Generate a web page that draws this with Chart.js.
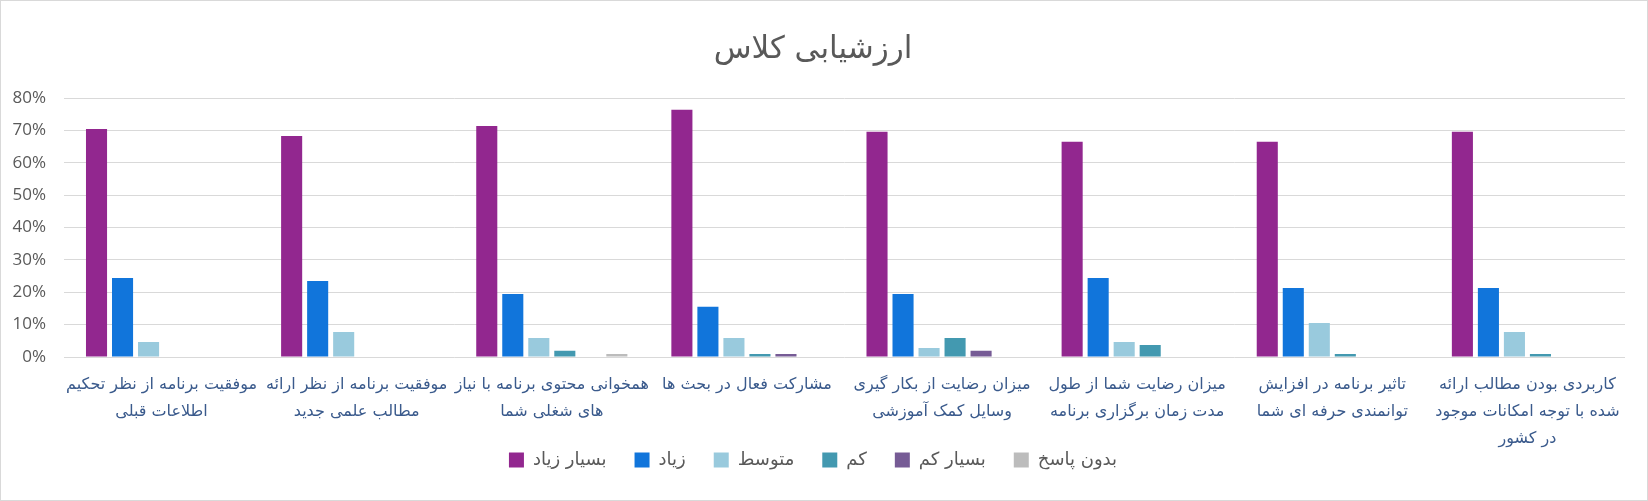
<!DOCTYPE html>
<html>
<head>
<meta charset="utf-8">
<script src="https://cdn.jsdelivr.net/npm/chart.js@4"></script>
<style>
  html, body { margin:0; padding:0; background:#fff; }
  #wrap { width:1648px; height:501px; box-sizing:border-box; border:1px solid #d9d9d9; position:relative; }
  canvas { display:block; }
</style>
</head>
<body>
<div id="wrap"><canvas id="chart" width="1646" height="499"></canvas></div>
<script>
/* =========================
   DATA
========================= */
const categories = [
  ["موفقیت برنامه از نظر تحکیم", "اطلاعات قبلی"],
  ["موفقیت برنامه از نظر ارائه", "مطالب علمی جدید"],
  ["همخوانی محتوی برنامه با نیاز", "های شغلی شما"],
  ["مشارکت فعال در بحث ها"],
  ["میزان رضایت از بکار گیری", "وسایل کمک آموزشی"],
  ["میزان رضایت شما از طول", "مدت زمان برگزاری برنامه"],
  ["تاثیر برنامه در افزایش", "توانمندی حرفه ای شما"],
  ["کاربردی بودن مطالب ارائه", "شده با توجه امکانات موجود", "در کشور"]
]

const seriesNames = ["بسیار زیاد", "زیاد", "متوسط", "کم", "بسیار کم", "بدون پاسخ"]

const veryHigh = [0.705, 0.683, 0.714, 0.764, 0.696, 0.665, 0.665, 0.696]
const high     = [0.244, 0.235, 0.195, 0.155, 0.195, 0.244, 0.213, 0.213]
const medium   = [0.046, 0.077, 0.059, 0.059, 0.028, 0.046, 0.105, 0.077]
const low      = [0,     0,     0.019, 0.009, 0.059, 0.037, 0.009, 0.009]
const veryLow  = [0,     0,     0,     0.009, 0.019, 0,     0,     0]
const noAnswer = [0,     0,     0.009, 0,     0,     0,     0,     0]

const yTicks = [0, 0.1, 0.2, 0.3, 0.4, 0.5, 0.6, 0.7, 0.8]

const colors = ["#92278f", "#1175db", "#99cadd", "#4399b0", "#765b95", "#bcbcbc"]

/* =========================
   LEGEND NUDGE
   (x labels need 3 lines, legend sits a bit into that band)
========================= */
const legendLift = {
  id: "legendLift",
  afterLayout(chart){
    const lg = chart.legend
    if(!lg) return
    lg.top -= 26
    lg.bottom -= 26
  }
}

/* =========================
   CHART
========================= */
const seriesValues = [veryHigh, high, medium, low, veryLow, noAnswer]

new Chart(document.getElementById("chart"), {
  type: "bar",
  data: {
    labels: categories,
    datasets: seriesValues.map((vals, i) => ({
      label: seriesNames[i],
      data: vals,
      backgroundColor: colors[i],
      borderWidth: 0,
      categoryPercentage: 0.8,
      barPercentage: 0.81
    }))
  },
  options: {
    responsive: false,
    animation: false,
    layout: { padding: { left: 0, right: 22, top: 0, bottom: -5 } },
    plugins: {
      tooltip: { enabled: false },
      title: {
        display: true,
        text: "ارزشیابی کلاس",
        color: "#595959",
        font: { family: "DejaVu Sans", size: 31, weight: "normal", lineHeight: 1.2 },
        padding: { top: 30, bottom: 30 }
      },
      legend: {
        position: "bottom",
        labels: {
          boxWidth: 15,
          boxHeight: 15,
          padding: 28,
          color: "#595959",
          font: { family: "DejaVu Sans", size: 18 }
        }
      }
    },
    scales: {
      x: {
        grid: { display: false, drawTicks: false },
        border: { display: false },
        ticks: {
          color: "#3a5a8c",
          padding: 14,
          maxRotation: 0,
          autoSkip: false,
          font: { family: "DejaVu Sans", size: 16, lineHeight: 1.69 }
        },
        afterFit(scale){ scale.height = 92 }
      },
      y: {
        min: 0,
        max: 0.8,
        afterBuildTicks(scale){ scale.ticks = yTicks.map(v => ({ value: v })) },
        grid: { color: "#d9d9d9", drawTicks: false },
        border: { display: false },
        ticks: {
          color: "#595959",
          padding: 18,
          font: { family: "Open Sans", size: 17 },
          callback: v => Math.round(v * 100) + "%"
        },
        afterFit(scale){ scale.width = 63 }
      }
    }
  },
  plugins: [legendLift]
})
</script>
</body>
</html>
